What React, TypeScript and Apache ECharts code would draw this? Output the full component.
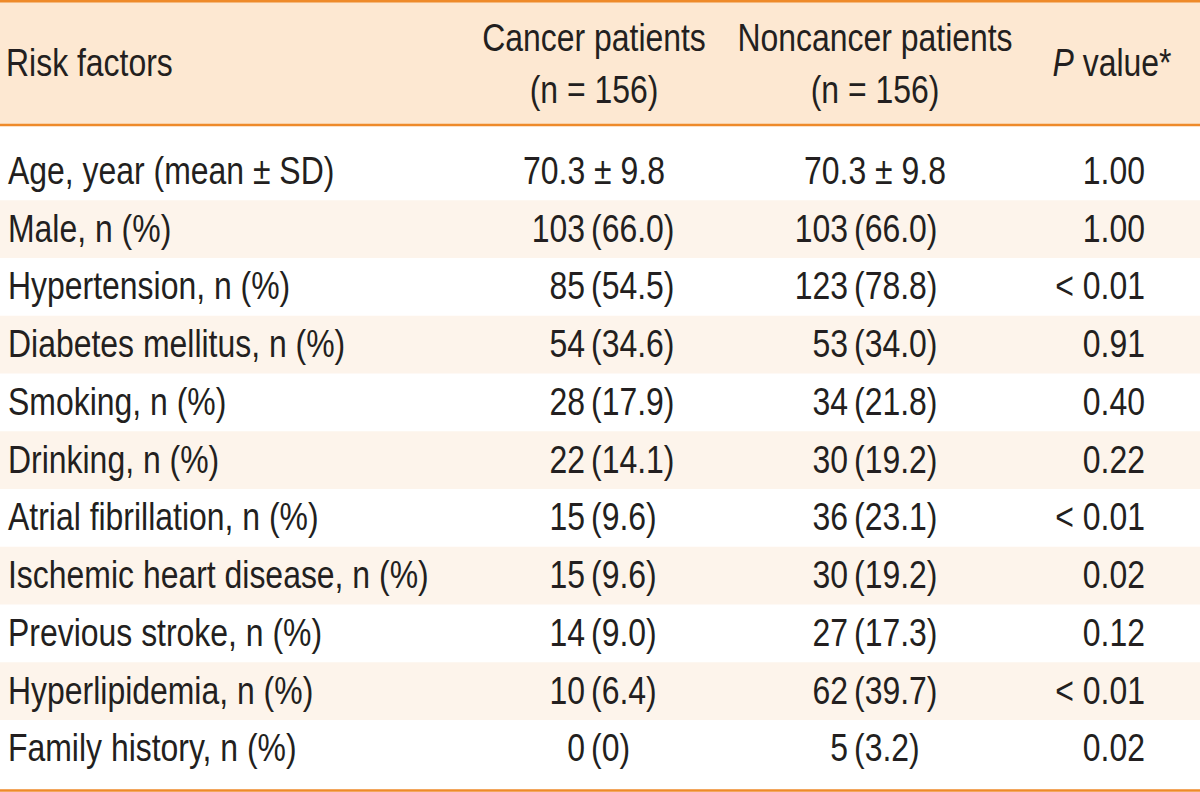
import React, { useEffect, useRef } from "react";
import * as echarts from "echarts";

const headerLabels = ["Risk factors", "Cancer patients", "Noncancer patients", "value*"];
const headerCounts = ["(n = 156)", "(n = 156)"];
const riskFactors = [
  "Age, year (mean ± SD)",
  "Male, n (%)",
  "Hypertension, n (%)",
  "Diabetes mellitus, n (%)",
  "Smoking, n (%)",
  "Drinking, n (%)",
  "Atrial fibrillation, n (%)",
  "Ischemic heart disease, n (%)",
  "Previous stroke, n (%)",
  "Hyperlipidemia, n (%)",
  "Family history, n (%)",
];
const cancerValues = [
  "70.3 ± 9.8",
  "103 (66.0)",
  "85 (54.5)",
  "54 (34.6)",
  "28 (17.9)",
  "22 (14.1)",
  "15 (9.6)",
  "15 (9.6)",
  "14 (9.0)",
  "10 (6.4)",
  "0 (0)",
];
const noncancerValues = [
  "70.3 ± 9.8",
  "103 (66.0)",
  "123 (78.8)",
  "53 (34.0)",
  "34 (21.8)",
  "30 (19.2)",
  "36 (23.1)",
  "30 (19.2)",
  "27 (17.3)",
  "62 (39.7)",
  "5 (3.2)",
];
const pValues = ["1.00", "1.00", "< 0.01", "0.91", "0.40", "0.22", "< 0.01", "0.02", "0.12", "< 0.01", "0.02"];

const FONT = "'Liberation Sans', Arial, sans-serif";
const TEXT_COLOR = "#231f20";
const ORANGE = "#ee8a2a";
const HEADER_BG = "#fde8d2";
const ALT_BG = "#fdf4eb";
const FS = 38.5;
const SX = 0.83;

function buildGraphics() {
  const W = 1200;
  const rowTop = 142.5;
  const pitch = 57.75;
  const els: any[] = [];
  els.push({ type: "rect", shape: { x: 0, y: 0, width: W, height: 125 }, style: { fill: HEADER_BG } });
  riskFactors.forEach((_, i) => {
    if (i % 2 === 1) {
      els.push({
        type: "rect",
        shape: { x: 0, y: rowTop + i * pitch, width: W, height: pitch },
        style: { fill: ALT_BG },
      });
    }
  });
  els.push({ type: "line", shape: { x1: 0, y1: 1.2, x2: W, y2: 1.2 }, style: { stroke: ORANGE, lineWidth: 2.5 } });
  els.push({ type: "line", shape: { x1: 0, y1: 125, x2: W, y2: 125 }, style: { stroke: ORANGE, lineWidth: 2.5 } });
  els.push({ type: "line", shape: { x1: 0, y1: 790.5, x2: W, y2: 790.5 }, style: { stroke: ORANGE, lineWidth: 2.5 } });

  const txt = (text: string, x: number, y: number, align: string, extra: any = {}) => ({
    type: "text",
    x,
    y,
    scaleX: SX,
    style: {
      text,
      x: 0,
      y: 0,
      fill: TEXT_COLOR,
      fontSize: FS,
      fontFamily: FONT,
      align,
      verticalAlign: "middle",
      ...extra,
    },
  });

  els.push(txt(headerLabels[0], 6, 62, "left"));
  els.push(txt(headerLabels[1], 594, 37, "center"));
  els.push(txt(headerCounts[0], 594, 89, "center"));
  els.push(txt(headerLabels[2], 875, 37, "center"));
  els.push(txt(headerCounts[1], 875, 89, "center"));
  els.push({
    type: "text",
    x: 1112,
    y: 62,
    scaleX: SX,
    style: {
      text: "{i|P} " + headerLabels[3],
      x: 0,
      y: 0,
      align: "center",
      verticalAlign: "middle",
      fill: TEXT_COLOR,
      fontSize: FS,
      fontFamily: FONT,
      rich: {
        i: { fontStyle: "italic", fontSize: FS, fontFamily: FONT, fill: TEXT_COLOR },
      },
    },
  });

  const cols = [
    { values: cancerValues, split: 592, center: 594 },
    { values: noncancerValues, split: 855, center: 875 },
  ];

  riskFactors.forEach((name, i) => {
    const cy = rowTop + i * pitch + pitch / 2 - 1;
    els.push(txt(name, 8, cy, "left"));
    cols.forEach((c) => {
      const v = c.values[i];
      const k = v.indexOf(" (");
      if (k < 0) {
        els.push(txt(v, c.center, cy, "center"));
      } else {
        els.push(txt(v.slice(0, k), c.split - 7, cy, "right"));
        els.push(txt(v.slice(k + 1), c.split - 1, cy, "left"));
      }
    });
    els.push(txt(pValues[i], 1145, cy, "right"));
  });
  return els;
}

export default function App() {
  const ref = useRef<HTMLDivElement>(null);
  useEffect(() => {
    document.body.style.margin = "0";
    if (!ref.current) return;
    const chart = echarts.init(ref.current, null, { renderer: "svg" });
    chart.setOption({
      animation: false,
      backgroundColor: "#ffffff",
      graphic: { elements: buildGraphics() },
    });
    return () => chart.dispose();
  }, []);
  return <div ref={ref} style={{ width: 1200, height: 792, position: "absolute", left: 0, top: 0 }} />;
}
